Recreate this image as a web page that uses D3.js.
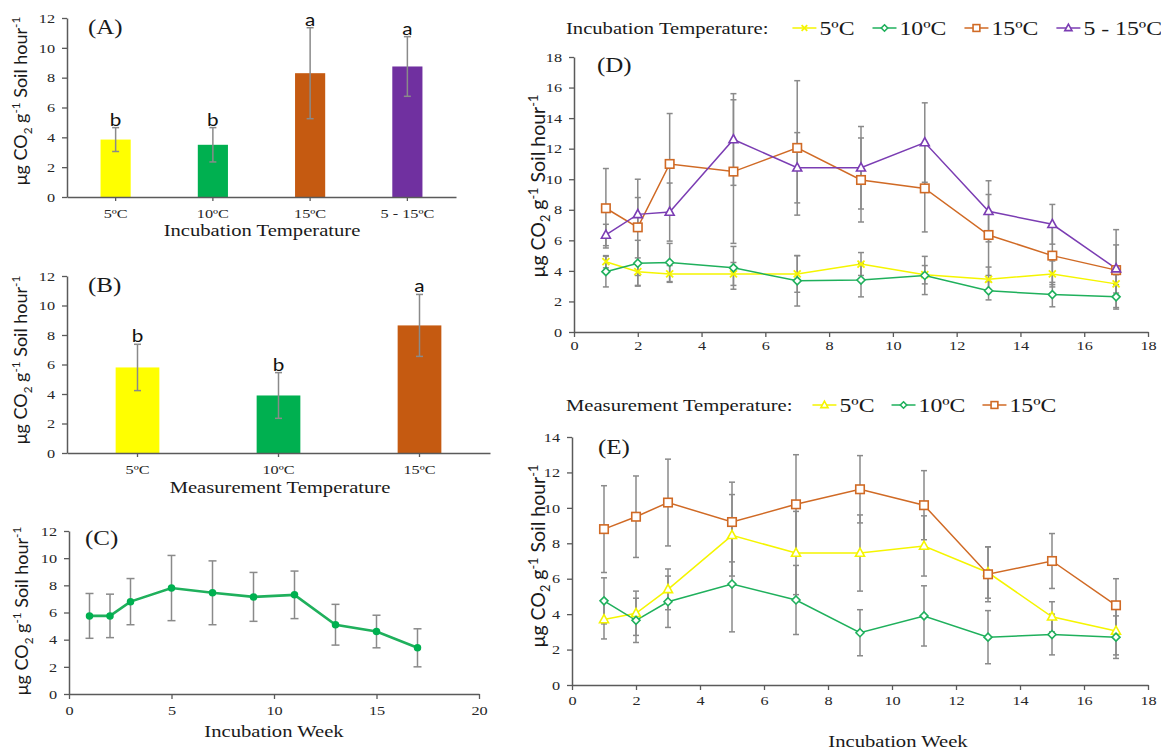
<!DOCTYPE html>
<html>
<head>
<meta charset="utf-8">
<script src="https://cdn.jsdelivr.net/npm/d3@7"></script>
<style>
  body { margin: 0; background: #fff; }
  svg { display: block; }
</style>
</head>
<body>
<svg id="chart" width="1161" height="751"></svg>
<script>
// ---------- Data ----------
// (A) mean respiration by incubation temperature
const incubationTemps = ["5ºC", "10ºC", "15ºC", "5 - 15ºC"];
const incubationMeans = [3.85, 3.5, 8.3, 8.75];
const incubationErr = [0.8, 1.15, 3.05, 2.0];
const incubationLetters = ["b", "b", "a", "a"];

// (B) mean respiration by measurement temperature
const measurementTemps = ["5ºC", "10ºC", "15ºC"];
const measurementMeans = [5.8, 3.9, 8.65];
const measurementErr = [1.57, 1.55, 2.1];
const measurementLetters = ["b", "b", "a"];

// (C) overall mean per incubation week
const weeks = [1, 2, 3, 5, 7, 9, 11, 13, 15, 17];
const weeklyMeans = [5.75, 5.75, 6.8, 7.8, 7.45, 7.15, 7.3, 5.1, 4.6, 3.4];
const weeklyErr = [1.65, 1.6, 1.7, 2.4, 2.35, 1.8, 1.75, 1.5, 1.2, 1.4];

// (D) weekly means per incubation temperature
const incub5 = [4.6, 3.95, 3.8, 3.8, 3.8, 4.45, 3.75, 3.45, 3.8, 3.15];
const incub5Err = [0.4, 0.9, 0.55, 0.75, 1.2, 0.75, 0.6, 0.8, 0.85, 0.6];
const incub10 = [3.95, 4.5, 4.55, 4.2, 3.35, 3.4, 3.7, 2.7, 2.45, 2.3];
const incub10Err = [1.0, 1.5, 1.25, 1.4, 1.65, 1.1, 1.25, 0.6, 0.8, 0.8];
const incub15 = [8.1, 6.85, 11.0, 10.5, 12.05, 9.95, 9.4, 6.35, 5.0, 4.05];
const incub15Err = [2.6, 3.15, 3.3, 4.7, 4.4, 2.75, 2.85, 2.65, 1.9, 1.65];
const incub5to15 = [6.35, 7.7, 7.85, 12.6, 10.75, 10.75, 12.4, 7.9, 7.05, 4.15];
const incub5to15Err = [0.7, 1.1, 1.9, 3.0, 2.3, 2.7, 2.6, 2.0, 1.3, 2.55];

// (E) weekly means per measurement temperature
const meas5 = [3.7, 4.05, 5.4, 8.45, 7.45, 7.45, 7.85, 6.35, 3.85, 3.05];
const meas5Err = [1.1, 1.25, 1.15, 2.3, 2.35, 2.15, 1.7, 1.45, 0.85, 1.35];
const meas10 = [4.75, 3.65, 4.7, 5.7, 4.8, 2.95, 3.9, 2.7, 2.85, 2.7];
const meas10Err = [1.3, 1.25, 1.45, 2.7, 1.95, 1.3, 1.7, 1.5, 1.15, 1.2];
const meas15 = [8.8, 9.5, 10.3, 9.2, 10.2, 11.05, 10.15, 6.25, 7.0, 4.5];
const meas15Err = [2.45, 2.3, 2.45, 2.25, 2.8, 1.9, 1.95, 1.55, 1.55, 1.5];

// ---------- Styling ----------
const SERIF = "'Liberation Serif', 'Times New Roman', serif";
const SANS = "Lato, 'Open Sans', sans-serif";
const SX = 1.25;              // horizontal stretch applied to upright text
const AXIS = "#5a5a5a";
const ERR = "#8a8a8a";
const YELLOW = "#FFFF00", GREEN = "#00B050", ORANGE = "#C55A11", PURPLE = "#7030A0";
const LINE_ORANGE = "#d06a25", LINE_PURPLE = "#7b3db3", LINE_GREEN = "#1fb05c", LINE_YELLOW = "#f5f500";

const svg = d3.select("#chart");

function sText(parent, x, y, str, size, opts = {}) {
  return parent.append("text")
    .attr("transform", `translate(${x},${y}) scale(${opts.sx || SX},1)`)
    .attr("font-family", opts.family || SERIF)
    .attr("font-size", size)
    .attr("fill", opts.fill || "#1a1a1a")
    .attr("text-anchor", opts.anchor || "start")
    .text(str);
}

function yLabel(x, y, size) {
  const t = svg.append("text")
    .attr("transform", `translate(${x},${y}) rotate(-90)`)
    .attr("text-anchor", "middle")
    .attr("font-family", SANS)
    .attr("font-size", size)
    .attr("fill", "#1a1a1a");
  const sub = size * 0.65;
  t.append("tspan").text("μg CO");
  t.append("tspan").attr("font-size", sub).attr("dy", size * 0.25).text("2");
  t.append("tspan").attr("dy", -size * 0.25).text(" g");
  t.append("tspan").attr("font-size", sub).attr("dy", -size * 0.38).text("-1");
  t.append("tspan").attr("dy", size * 0.38).text(" Soil hour");
  t.append("tspan").attr("font-size", sub).attr("dy", -size * 0.38).text("-1");
}

function styleAxis(g) {
  g.attr("font-family", null).attr("font-size", null);
  g.select(".domain").attr("stroke", AXIS).attr("stroke-width", 1.5);
  g.selectAll(".tick line").attr("stroke", AXIS).attr("stroke-width", 1.3);
  g.selectAll(".tick text")
    .attr("font-family", SERIF).attr("font-size", 13).attr("fill", "#262626")
    .each(function () {
      const t = d3.select(this);
      const x = +t.attr("x") || 0;
      t.attr("x", x / SX).attr("transform", `scale(${SX},1)`);
    });
}

function errorBars(g, xs, lows, highs, cap, width) {
  const eb = g.append("g").attr("stroke", ERR).attr("stroke-width", width);
  xs.forEach((cx, i) => {
    eb.append("line").attr("x1", cx).attr("x2", cx).attr("y1", lows[i]).attr("y2", highs[i]);
    eb.append("line").attr("x1", cx - cap).attr("x2", cx + cap).attr("y1", lows[i]).attr("y2", lows[i]);
    eb.append("line").attr("x1", cx - cap).attr("x2", cx + cap).attr("y1", highs[i]).attr("y2", highs[i]);
  });
}

function marker(g, shape, color, s) {
  const sw = 1.6;
  if (shape === "square") {
    g.append("rect").attr("x", -s / 2).attr("y", -s / 2).attr("width", s).attr("height", s)
      .attr("fill", "#fff").attr("stroke", color).attr("stroke-width", sw);
  } else if (shape === "triangle") {
    const h = s * 0.9;
    g.append("path").attr("d", `M0,${-h * 0.6}L${s / 2},${h * 0.4}L${-s / 2},${h * 0.4}Z`)
      .attr("fill", "#fff").attr("stroke", color).attr("stroke-width", sw);
  } else if (shape === "diamond") {
    const r = s / 2;
    g.append("path").attr("d", `M0,${-r}L${r},0L0,${r}L${-r},0Z`)
      .attr("fill", "#fff").attr("stroke", color).attr("stroke-width", sw);
  } else if (shape === "cross") {
    const r = s / 2;
    g.append("path").attr("d", `M${-r},${-r}L${r},${r}M${-r},${r}L${r},${-r}`)
      .attr("stroke", color).attr("stroke-width", 1.8);
  } else if (shape === "dot") {
    g.append("circle").attr("r", s / 2).attr("fill", color);
  }
}

// ---------- Bar panels (A, B) ----------
function barPanel(cfg) {
  const g = svg.append("g");
  const x = d3.scaleBand().domain(cfg.cats).range([cfg.left, cfg.right])
    .paddingInner(0.69).paddingOuter(0.345);
  const y = d3.scaleLinear().domain([0, 12]).range([cfg.bottom, cfg.top]);

  g.selectAll("rect.bar").data(cfg.cats).join("rect").attr("class", "bar")
    .attr("x", d => x(d)).attr("width", x.bandwidth())
    .attr("y", (d, i) => y(cfg.means[i]))
    .attr("height", (d, i) => y(0) - y(cfg.means[i]))
    .attr("fill", (d, i) => cfg.colors[i]);

  const cxs = cfg.cats.map(c => x(c) + x.bandwidth() / 2);
  errorBars(g, cxs,
    cfg.means.map((m, i) => y(m - cfg.err[i])),
    cfg.means.map((m, i) => y(m + cfg.err[i])), 3.5, 1.5);

  // significance letters just above each error bar
  cfg.letters.forEach((l, i) => {
    sText(g, cxs[i], y(cfg.means[i] + cfg.err[i]) - 2, l, 18,
      { family: SANS, anchor: "middle", fill: "#111", sx: 1.15 });
  });

  g.append("g").attr("transform", `translate(${cfg.left},0)`)
    .call(d3.axisLeft(y).tickValues(d3.range(0, 13, 2)).tickSize(5).tickSizeOuter(0).tickPadding(7))
    .call(styleAxis);
  g.append("g").attr("transform", `translate(0,${cfg.bottom})`)
    .call(d3.axisBottom(x).tickSize(4).tickSizeOuter(0).tickPadding(8))
    .call(styleAxis);

  sText(g, cfg.left + 21, cfg.top + 16, cfg.tag, 20);
  sText(g, cfg.titleX, cfg.titleY, cfg.title, 16.5, { anchor: "middle" });
  yLabel(cfg.left - 40, cfg.yLabelY, 18);
}

barPanel({
  cats: incubationTemps, means: incubationMeans, err: incubationErr, letters: incubationLetters,
  colors: [YELLOW, GREEN, ORANGE, PURPLE],
  left: 67, right: 456, top: 18, bottom: 197,
  tag: "(A)", title: "Incubation Temperature", titleX: 262, titleY: 236, yLabelY: 101
});

barPanel({
  cats: measurementTemps, means: measurementMeans, err: measurementErr, letters: measurementLetters,
  colors: [YELLOW, GREEN, ORANGE],
  left: 67, right: 490, top: 276, bottom: 453,
  tag: "(B)", title: "Measurement Temperature", titleX: 280, titleY: 493, yLabelY: 360
});

// ---------- Line panels (C, D, E) ----------
function linePanel(cfg) {
  const g = svg.append("g");
  const x = d3.scaleLinear().domain([0, cfg.xmax]).range([cfg.left, cfg.right]);
  const y = d3.scaleLinear().domain([0, cfg.ymax]).range([cfg.bottom, cfg.top]);
  const xs = cfg.weeks.map(w => x(w));

  cfg.series.forEach(s => {
    errorBars(g, xs,
      s.values.map((v, i) => y(v - s.err[i])),
      s.values.map((v, i) => y(v + s.err[i])), cfg.cap, 1.5);
  });

  const line = d3.line().x((d, i) => xs[i]).y(d => y(d));
  cfg.series.forEach(s => {
    g.append("path").datum(s.values).attr("d", line)
      .attr("fill", "none").attr("stroke", s.line).attr("stroke-width", cfg.lineWidth);
  });
  cfg.series.forEach(s => {
    s.values.forEach((v, i) => {
      marker(g.append("g").attr("transform", `translate(${xs[i]},${y(v)})`), s.shape, s.color, s.size);
    });
  });

  g.append("g").attr("transform", `translate(${cfg.left},0)`)
    .call(d3.axisLeft(y).tickValues(d3.range(0, cfg.ymax + 1, 2)).tickSize(5).tickSizeOuter(0).tickPadding(7))
    .call(styleAxis);
  g.append("g").attr("transform", `translate(0,${cfg.bottom})`)
    .call(d3.axisBottom(x).tickValues(d3.range(0, cfg.xmax + 1, cfg.xstep)).tickFormat(d3.format("d"))
      .tickSize(5).tickSizeOuter(0).tickPadding(cfg.xPad))
    .call(styleAxis);

  sText(g, cfg.tagX, cfg.tagY, cfg.tag, 20);
  if (cfg.title) sText(g, cfg.titleX, cfg.titleY, cfg.title, 16.5, { anchor: "middle" });
  yLabel(cfg.yLabelX, cfg.yLabelY, cfg.yLabelSize);
}

linePanel({
  weeks: weeks, xmax: 20, xstep: 5, ymax: 12,
  left: 69, right: 479, top: 531, bottom: 694, xPad: 7, cap: 4, lineWidth: 2.6,
  series: [{ values: weeklyMeans, err: weeklyErr, line: LINE_GREEN, color: GREEN, shape: "dot", size: 7.5 }],
  tag: "(C)", tagX: 85, tagY: 545,
  title: "Incubation Week", titleX: 274, titleY: 737,
  yLabelX: 28, yLabelY: 611, yLabelSize: 18
});

const dSeries = [
  { name: "5ºC", values: incub5, err: incub5Err, line: LINE_YELLOW, color: LINE_YELLOW, shape: "cross", size: 7 },
  { name: "10ºC", values: incub10, err: incub10Err, line: LINE_GREEN, color: LINE_GREEN, shape: "diamond", size: 8 },
  { name: "15ºC", values: incub15, err: incub15Err, line: LINE_ORANGE, color: LINE_ORANGE, shape: "square", size: 8.5 },
  { name: "5 - 15ºC", values: incub5to15, err: incub5to15Err, line: LINE_PURPLE, color: LINE_PURPLE, shape: "triangle", size: 9 }
];
linePanel({
  weeks: weeks, xmax: 18, xstep: 2, ymax: 18,
  left: 574, right: 1148, top: 57, bottom: 332, xPad: 4, cap: 3, lineWidth: 1.5,
  series: dSeries,
  tag: "(D)", tagX: 597, tagY: 72,
  yLabelX: 545, yLabelY: 186, yLabelSize: 19.5
});

const eSeries = [
  { name: "5ºC", values: meas5, err: meas5Err, line: LINE_YELLOW, color: LINE_YELLOW, shape: "triangle", size: 9 },
  { name: "10ºC", values: meas10, err: meas10Err, line: LINE_GREEN, color: LINE_GREEN, shape: "diamond", size: 8 },
  { name: "15ºC", values: meas15, err: meas15Err, line: LINE_ORANGE, color: LINE_ORANGE, shape: "square", size: 8.5 }
];
linePanel({
  weeks: weeks, xmax: 18, xstep: 2, ymax: 14,
  left: 572, right: 1148, top: 437, bottom: 685, xPad: 6, cap: 3, lineWidth: 1.5,
  series: eSeries,
  tag: "(E)", tagX: 598, tagY: 454,
  title: "Incubation Week", titleX: 898, titleY: 747,
  yLabelX: 545, yLabelY: 556, yLabelSize: 19.5
});

// ---------- Legends ----------
function legend(x0, yc, header, series, gapHeader, gapItem) {
  const g = svg.append("g");
  const h = sText(g, x0, yc + 5.5, header, 16.5);
  let x = x0 + h.node().getComputedTextLength() * SX + gapHeader;
  series.forEach(s => {
    g.append("line").attr("x1", x).attr("x2", x + 24).attr("y1", yc).attr("y2", yc)
      .attr("stroke", s.line).attr("stroke-width", 1.5);
    marker(g.append("g").attr("transform", `translate(${x + 12},${yc})`), s.shape, s.color, s.size * 0.8);
    x += 27;
    const t = sText(g, x, yc + 6.5, s.name, 19);
    x += t.node().getComputedTextLength() * SX + gapItem;
  });
}
legend(566, 28, "Incubation Temperature:", dSeries, 24, 18);
legend(566, 405, "Measurement Temperature:", eSeries, 20, 17);
</script>
</body>
</html>
